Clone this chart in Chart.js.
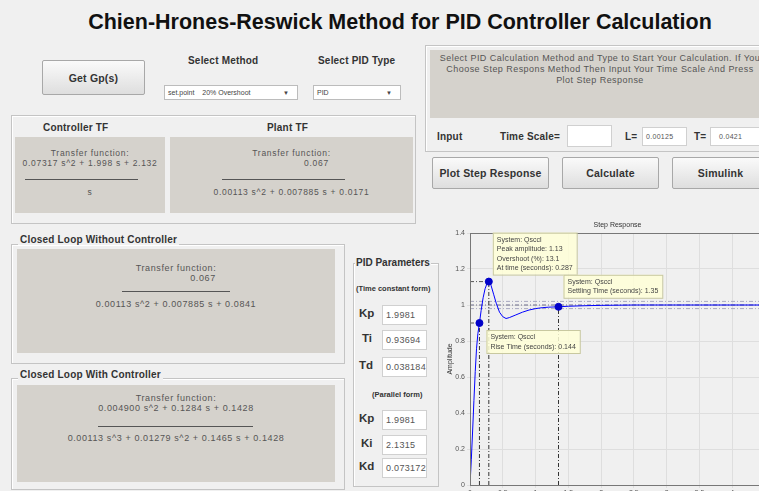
<!DOCTYPE html>
<html>
<head>
<meta charset="utf-8">
<script src="https://cdn.jsdelivr.net/npm/chart.js@4.4.1/dist/chart.umd.min.js"></script>
<style>
  html, body { margin: 0; padding: 0; }
  body { width: 759px; height: 491px; overflow: hidden; background: #f0f0f0; position: relative;
         font-family: "Liberation Sans", Arial, sans-serif; color: #222; }
  .a { position: absolute; }
  .title { left: 0; width: 800px; top: 10px; text-align: center; font-size: 21.5px; font-weight: bold; color: #111; }
  .lbl { font-size: 10px; font-weight: bold; color: #333; white-space: nowrap; letter-spacing: 0.2px; }
  .btn { background: linear-gradient(#fafafa, #dedede); border: 1px solid #a8a8a8; border-radius: 2px;
         font-size: 10.5px; font-weight: bold; color: #333; display: flex; align-items: center; justify-content: center; letter-spacing: 0.2px; }
  .drop { background: #fff; border: 1px solid #bcbcbc; font-size: 7px; color: #444; line-height: 14px; padding-left: 3px; box-sizing: border-box; }
  .drop span.arr { position: absolute; right: 8px; top: 0; font-size: 6px; }
  .panel { border: 1px solid #c4c4c4; box-shadow: inset 1px 1px 0 #fff; }
  .gray { background: #d5d2cc; font-size: 8.5px; letter-spacing: 0.7px; color: #555; text-align: center; white-space: nowrap; }
  .gray div { position: absolute; left: 0; right: 0; line-height: 10px; }
  .hr { height: 1px; background: #555; }
  .box { background: #fff; border: 1px solid #d0d0d0; font-size: 9px; letter-spacing: 0.3px; color: #555; line-height: 18px; padding-left: 3px; box-sizing: border-box; overflow: hidden; white-space: nowrap; }
  .plbl { font-size: 11.5px; font-weight: bold; color: #333; }
</style>
</head>
<body>
<div class="a title">Chien-Hrones-Reswick Method for PID Controller Calculation</div>

<div class="a btn" style="left:42px;top:60px;width:101px;height:33px;">Get Gp(s)</div>
<div class="a lbl" style="left:188px;top:55px;">Select Method</div>
<div class="a lbl" style="left:318px;top:55px;">Select PID Type</div>
<div class="a drop" style="left:164px;top:85px;width:134px;height:15px;">set.point &nbsp;&nbsp; 20% Overshoot<span class="arr">&#9660;</span></div>
<div class="a drop" style="left:313px;top:85px;width:88px;height:15px;">PID<span class="arr">&#9660;</span></div>

<div class="a panel" style="left:11px;top:115px;width:403px;height:107px;"></div>
<div class="a lbl" style="left:43px;top:122px;">Controller TF</div>
<div class="a lbl" style="left:267px;top:122px;">Plant TF</div>
<div class="a gray" style="left:15px;top:137px;width:150px;height:76px;">
  <div style="top:11px;">Transfer function:</div>
  <div style="top:21px;">0.07317 s^2 + 1.998 s + 2.132</div>
  <div class="hr" style="left:10px;right:27px;top:42px;"></div>
  <div style="top:50px;">s</div>
</div>
<div class="a gray" style="left:170px;top:137px;width:243px;height:76px;">
  <div style="top:11px;">Transfer function:</div>
  <div style="top:21px;left:50px;">0.067</div>
  <div class="hr" style="left:52px;right:68px;top:42px;"></div>
  <div style="top:50px;">0.00113 s^2 + 0.007885 s + 0.0171</div>
</div>

<div class="a panel" style="left:425px;top:45px;width:340px;height:105px;"></div>
<div class="a gray" style="left:430px;top:50px;width:340px;height:68px;line-height:11px;padding-top:3px;box-sizing:border-box;position:absolute;font-size:9px;letter-spacing:0.45px;">
Select PID Calculation Method and Type to Start Your Calculation. If You<br>Choose Step Respons Method Then Input Your Time Scale And Press<br>Plot Step Response
</div>
<div class="a lbl" style="left:437px;top:131px;">Input</div>
<div class="a lbl" style="left:500px;top:131px;">Time Scale=</div>
<div class="a box" style="left:567px;top:125px;width:45px;height:22px;"></div>
<div class="a lbl" style="left:625px;top:131px;">L=</div>
<div class="a box" style="left:642px;top:127px;width:45px;height:19px;font-size:7px;">0.00125</div>
<div class="a lbl" style="left:694px;top:131px;">T=</div>
<div class="a box" style="left:710px;top:127px;width:52px;height:19px;font-size:7px;padding-left:8px;">0.0421</div>

<div class="a btn" style="left:432px;top:157px;width:115px;height:30px;">Plot Step Response</div>
<div class="a btn" style="left:562px;top:157px;width:95px;height:30px;">Calculate</div>
<div class="a btn" style="left:672px;top:157px;width:95px;height:30px;">Simulink</div>

<div class="a panel" style="left:11px;top:244px;width:332px;height:118px;"></div>
<div class="a lbl" style="left:18px;top:234px;background:#f0f0f0;padding:0 2px;">Closed Loop Without Controller</div>
<div class="a gray" style="left:17px;top:249px;width:318px;height:104px;font-size:9px;letter-spacing:0.6px;">
  <div style="top:14px;">Transfer function:</div>
  <div style="top:24px;left:54px;">0.067</div>
  <div class="hr" style="left:105px;right:105px;top:42px;"></div>
  <div style="top:50px;">0.00113 s^2 + 0.007885 s + 0.0841</div>
</div>

<div class="a panel" style="left:11px;top:378px;width:332px;height:110px;"></div>
<div class="a lbl" style="left:18px;top:369px;background:#f0f0f0;padding:0 2px;">Closed Loop With Controller</div>
<div class="a gray" style="left:17px;top:385px;width:318px;height:97px;font-size:9px;letter-spacing:0.6px;">
  <div style="top:8px;">Transfer function:</div>
  <div style="top:18px;">0.004900 s^2 + 0.1284 s + 0.1428</div>
  <div class="hr" style="left:81px;right:82px;top:41px;"></div>
  <div style="top:48px;">0.00113 s^3 + 0.01279 s^2 + 0.1465 s + 0.1428</div>
</div>

<div class="a panel" style="left:353px;top:263px;width:84px;height:222px;"></div>
<div class="a lbl" style="left:355px;top:257px;font-size:10px;background:#f0f0f0;padding:0 1px;letter-spacing:0;">PID Parameters</div>
<div class="a lbl" style="left:356px;top:284px;font-size:7.5px;letter-spacing:0;">(Time constant form)</div>
<div class="a plbl" style="left:359px;top:307px;">Kp</div>
<div class="a box" style="left:382px;top:305px;width:45px;height:20px;">1.9981</div>
<div class="a plbl" style="left:362px;top:332px;">Ti</div>
<div class="a box" style="left:382px;top:330px;width:45px;height:20px;">0.93694</div>
<div class="a plbl" style="left:359px;top:359px;">Td</div>
<div class="a box" style="left:382px;top:357px;width:45px;height:20px;">0.038184</div>
<div class="a lbl" style="left:372px;top:390px;font-size:7.5px;letter-spacing:0;">(Parallel form)</div>
<div class="a plbl" style="left:359px;top:412px;">Kp</div>
<div class="a box" style="left:382px;top:410px;width:45px;height:20px;">1.9981</div>
<div class="a plbl" style="left:361px;top:437px;">Ki</div>
<div class="a box" style="left:382px;top:435px;width:45px;height:20px;">2.1315</div>
<div class="a plbl" style="left:359px;top:460px;">Kd</div>
<div class="a box" style="left:382px;top:458px;width:45px;height:20px;">0.073172</div>

<canvas id="step" class="a" width="340" height="300" style="left:440px;top:215px;"></canvas>

<script>
// step response of the closed loop with controller
const stepTime = [0, 0.02, 0.04, 0.06, 0.08, 0.1, 0.12, 0.144, 0.17, 0.2, 0.23, 0.26, 0.287, 0.32, 0.36, 0.4, 0.45, 0.5, 0.55, 0.6, 0.7, 0.8, 0.9, 1.0, 1.1, 1.2, 1.35, 1.5, 1.75, 2.0, 2.5, 3.0, 3.5, 4.0, 4.5];
const stepAmp  = [0, 0.14, 0.3, 0.47, 0.63, 0.76, 0.84, 0.9, 0.97, 1.04, 1.09, 1.12, 1.13, 1.11, 1.06, 1.01, 0.96, 0.935, 0.925, 0.93, 0.945, 0.96, 0.972, 0.98, 0.985, 0.988, 0.99, 0.993, 0.996, 0.998, 1.0, 1.0, 1.0, 1.0, 1.0];

// characteristic points: rise time, peak, settling time
const charNames  = ["rise", "peak", "settling"];
const charTime   = [0.144, 0.287, 1.35];
const charValue  = [0.9, 1.13, 0.99];
const charTips = [
    ["System: Qsccl", "Rise Time (seconds): 0.144"],
    ["System: Qsccl", "Peak amplitude: 1.13", "Overshoot (%): 13.1", "At time (seconds): 0.287"],
    ["System: Qsccl", "Settling Time (seconds): 1.35"]
];
const steadyLines = [0.98, 1.0, 1.02];

const xTicksMax = 4.5;
const yTicksMax = 1.4;

const datasets = [];
datasets.push({
    data: stepTime.map((t, i) => ({ x: t, y: stepAmp[i] })),
    showLine: true, borderColor: "#0000ff", borderWidth: 1, pointRadius: 0, order: 1
});
datasets.push({
    data: charTime.map((t, i) => ({ x: t, y: charValue[i] })),
    showLine: false, pointRadius: 3.5, pointBackgroundColor: "#0000c8", pointBorderColor: "#0000c8", order: 0
});
charTime.forEach((t, i) => {
    datasets.push({
        data: [{ x: t, y: 0 }, { x: t, y: charValue[i] }],
        showLine: true, borderColor: "#333", borderWidth: 1, borderDash: [4, 2, 1, 2], pointRadius: 0, order: 2
    });
    if (charNames[i] !== "settling") {
        datasets.push({
            data: [{ x: 0, y: charValue[i] }, { x: t, y: charValue[i] }],
            showLine: true, borderColor: "#555", borderWidth: 1, borderDash: [4, 2, 1, 2], pointRadius: 0, order: 2
        });
    }
});
steadyLines.forEach(v => {
    datasets.push({
        data: [{ x: 0, y: v }, { x: xTicksMax, y: v }],
        showLine: true, borderColor: v === 1 ? "#6a6a8a" : "#a8a8c0", borderWidth: 1, borderDash: [4, 2, 1, 2], pointRadius: 0, order: 3
    });
});

const tipOffsets = { rise: [7, 7, false], peak: [4, -7, true], settling: [5, -9, true] };

const extras = {
    id: "extras",
    beforeDatasetsDraw(chart) {
        const { ctx, chartArea: a } = chart;
        ctx.save();
        ctx.fillStyle = "#333";
        ctx.font = "7px 'Liberation Sans', Arial";
        ctx.textAlign = "center";
        ctx.fillText("Step Response", (a.left + a.right) / 2, a.top - 6);
        ctx.translate(12, (a.top + a.bottom) / 2);
        ctx.rotate(-Math.PI / 2);
        ctx.fillText("Amplitude", 0, 0);
        ctx.restore();
    },
    afterDraw(chart) {
        const { ctx, chartArea: a, scales } = chart;
        ctx.save();
        ctx.strokeStyle = "#777";
        ctx.lineWidth = 1;
        ctx.strokeRect(a.left + 0.5, a.top + 0.5, a.right - a.left, a.bottom - a.top);
        ctx.font = "7px 'Liberation Sans', Arial";
        charNames.forEach((name, i) => {
            const px = scales.x.getPixelForValue(charTime[i]);
            const py = scales.y.getPixelForValue(charValue[i]);
            const lines = charTips[i];
            const w = Math.max(...lines.map(l => ctx.measureText(l).width)) + 8;
            const h = lines.length * 9.5 + 4;
            const [dx, dy, above] = tipOffsets[name];
            const bx = px + dx;
            const by = above ? py + dy - h : py + dy;
            ctx.fillStyle = "rgba(255,255,215,0.85)";
            ctx.fillRect(bx, by, w, h);
            ctx.strokeStyle = "#c8c8a0";
            ctx.strokeRect(bx + 0.5, by + 0.5, w, h);
            ctx.fillStyle = "#444";
            ctx.textAlign = "left";
            lines.forEach((l, k) => ctx.fillText(l, bx + 4, by + 9 + k * 9.5));
        });
        ctx.restore();
    }
};

new Chart(document.getElementById("step").getContext("2d"), {
    type: "scatter",
    data: { datasets },
    options: {
        responsive: false,
        animation: false,
        devicePixelRatio: 1,
        layout: { autoPadding: false, padding: { left: 0, top: 18, right: 15, bottom: 0 } },
        plugins: { legend: { display: false }, tooltip: { enabled: false } },
        scales: {
            x: {
                min: 0, max: xTicksMax,
                afterFit: s => { s.height = 30; },
                grid: { color: "#dedede", drawTicks: true, tickLength: 3 },
                border: { color: "#777" },
                ticks: { stepSize: 0.5, color: "#555", font: { size: 7 }, padding: 1, maxRotation: 0,
                         callback: v => String(Math.round(v * 10) / 10) }
            },
            y: {
                min: 0, max: yTicksMax,
                afterFit: s => { s.width = 30; },
                grid: { color: "#dedede", drawTicks: true, tickLength: 3 },
                border: { color: "#777" },
                ticks: { stepSize: 0.2, color: "#555", font: { size: 7 }, padding: 2,
                         callback: v => String(Math.round(v * 10) / 10) }
            }
        }
    },
    plugins: [extras]
});
</script>
</body>
</html>
